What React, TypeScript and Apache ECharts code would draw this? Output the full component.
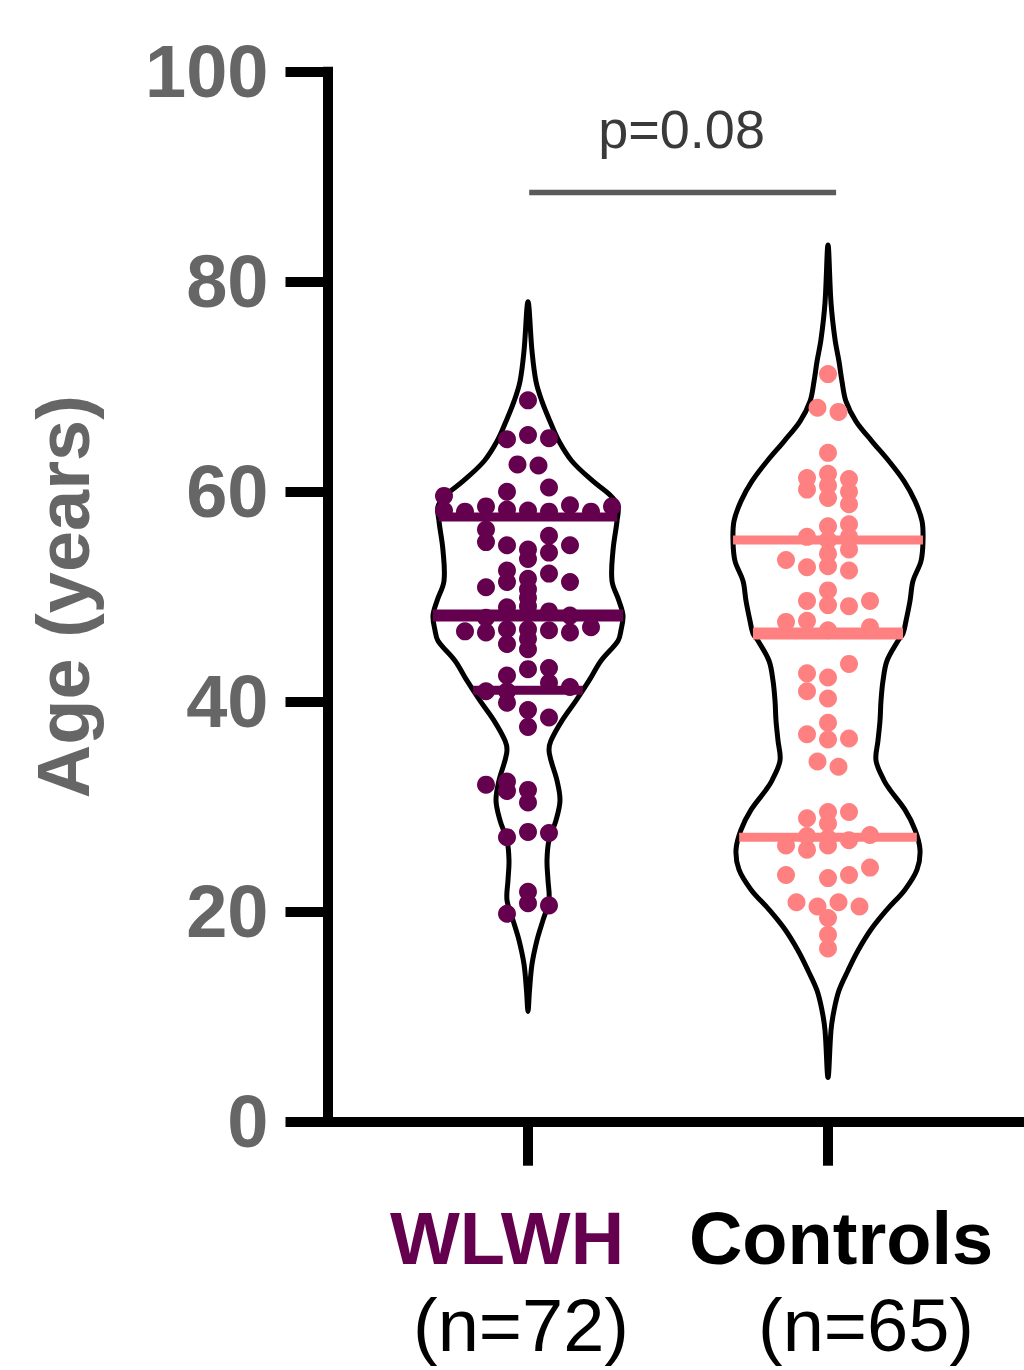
import React, { useEffect, useRef } from "react";
import * as echarts from "echarts";

// ---------- data ----------
const categories = ["WLWH", "Controls"];
const groupSizes = [72, 65];
const groupColors = ["#65004f", "#ff8080"];
const categoryLabelColors = ["#65004f", "#000000"];
const yAxisTitle = "Age (years)";
const pValueLabel = "p=0.08";
const bracketAge = 88.5;
const pLabelAge = 94.5;

// WLWH individual ages and their beeswarm slot (column) positions
const wlwhAges = [
  68.7,
  65.0, 65.4, 65.1,
  62.6, 62.5,
  59.6, 60.0, 60.4,
  58.2, 58.1, 58.6, 58.3, 58.2, 58.1, 58.7, 58.1, 58.6,
  56.4, 55.2,
  54.9, 52.5, 51.4, 49.0,
  54.5, 53.6, 51.7, 50.7, 49.9, 49.1,
  55.8, 54.2, 52.2,
  54.9, 51.4,
  50.9,
  46.7, 46.6, 46.9, 46.9, 46.8, 46.6, 47.1,
  45.5, 46.0, 45.0,
  43.1, 42.5, 43.2,
  41.0, 41.0, 39.9, 41.8, 41.4,
  39.2, 38.5, 37.6,
  32.1, 32.4, 31.5, 31.6, 30.4,
  27.1, 27.6, 27.5,
  21.9, 20.8, 20.6, 19.8,
  48.6, 48.0, 48.2,
];
const wlwhSlots = [
  0,
  -1, 0, 1,
  -0.5, 0.5,
  -4, -1, 1,
  -4, -3, -2, -1, 0, 1, 2, 3, 4,
  -2, -2,
  -1, -1, -1, -1,
  0, 0, 0, 0, 0, 0,
  1, 1, 1,
  2, 2,
  -2,
  -3, -2, -1, 0, 1, 2, 3,
  -1, 0, 0,
  0, -1, 1,
  -2, -1, -1, 1, 2,
  0, 1, 0,
  -2, -1, -1, 0, 0,
  -1, 0, 1,
  0, 0, 1, -1,
  1, -2, 2,
];

// Controls individual ages and slots
const controlsAges = [
  71.2,
  68.0, 67.6,
  63.7,
  61.3, 60.2,
  61.7, 60.6, 59.4,
  61.2, 60.0, 58.8,
  56.7, 56.9, 55.7,
  55.4, 54.1, 52.9,
  55.7, 54.5, 52.5,
  53.5, 52.8,
  50.6, 49.6, 49.2, 49.1, 49.6,
  47.6, 47.7, 47.1,
  43.6, 42.7, 42.3, 41.0, 40.3,
  38.0, 36.9, 36.4, 36.5, 34.3, 33.8,
  28.9, 29.5, 28.4, 29.5,
  26.3, 25.9, 26.3, 26.8, 27.3,
  23.5, 23.2, 23.5, 24.2,
  20.9, 20.5, 20.9, 20.5,
  19.4, 17.8, 16.5,
  27.2, 27.0, 46.8,
];
const controlsSlots = [
  0,
  -0.5, 0.5,
  0,
  -1, -1,
  0, 0, 0,
  1, 1, 1,
  0, 1, -1,
  0, 0, 0,
  1, 1, 1,
  -2, -1,
  0, -1, 0, 1, 2,
  -2, -1, 2,
  1, -1, 0, -1, 0,
  0, -1, 0, 1, -0.5, 0.5,
  -1, 0, 0, 1,
  -2, -1, 0, 1, 2,
  -2, 0, 1, 2,
  -1.5, -0.5, 0.5, 1.5,
  0, 0, 0,
  -1, 0, 0,
];

// violin density profiles (age, relative half width)
const wlwhProfileAges = [78.1, 73.4, 70.5, 68.6, 66.7, 64.8, 62.9, 61.0, 59.6, 58.6, 57.2, 54.4, 51.5, 49.6, 48.2, 46.8, 45.8, 43.9, 42.0, 40.1, 38.2, 36.3, 35.4, 34.4, 32.5, 30.6, 28.7, 26.8, 24.9, 23.0, 21.1, 19.2, 17.3, 15.0, 12.5, 10.5];
const wlwhProfileDensity = [0, 4, 8, 14, 22, 31, 44, 65, 83, 90, 89, 85, 84, 91, 95, 93, 90, 73, 61, 48, 34, 23, 21, 23, 29, 32, 28, 21, 19, 20, 21, 15, 9, 4, 1.5, 0];
const controlsProfileAges = [83.5, 78.0, 74.5, 72.4, 70.5, 68.6, 66.7, 64.8, 62.9, 61.0, 59.1, 57.2, 55.3, 53.4, 51.5, 49.6, 47.7, 46.5, 45.8, 43.9, 42.0, 40.1, 38.2, 36.3, 34.4, 32.5, 31.6, 29.7, 27.8, 25.9, 24.0, 22.1, 20.2, 18.3, 16.3, 14.4, 12.5, 10.6, 8.7, 4.2];
const controlsProfileDensity = [0, 3, 7, 11, 14, 18, 28, 44, 61, 76, 87, 94, 95, 93, 85, 82, 78, 75, 70, 59, 55, 53, 52, 50, 48, 56, 62, 77, 87, 92, 89, 77, 59, 43, 30, 20, 11, 6, 3, 0];

// quartiles: [Q1, median, Q3]
const wlwhQuartiles = [41.1, 48.2, 57.6];
const controlsQuartiles = [27.1, 46.5, 55.4];

// ---------- layout constants ----------
const FONT = "'Liberation Sans', Arial, Helvetica, sans-serif";
const SLOT_WIDTH = 0.07; // category units per swarm column
const DENSITY_SCALE = 1 / 300; // category units per density unit
const X_MIN = 0.3317;
const X_MAX = 2.6533;

const groups = [
  { ages: wlwhAges, slots: wlwhSlots, pAges: wlwhProfileAges, pDens: wlwhProfileDensity, q: wlwhQuartiles },
  { ages: controlsAges, slots: controlsSlots, pAges: controlsProfileAges, pDens: controlsProfileDensity, q: controlsQuartiles },
];

function densityAt(pAges: number[], pDens: number[], age: number) {
  for (let i = 0; i < pAges.length - 1; i++) {
    const a0 = pAges[i], a1 = pAges[i + 1];
    if (age <= a0 && age >= a1) {
      const t = (a0 - age) / (a0 - a1);
      return pDens[i] + t * (pDens[i + 1] - pDens[i]);
    }
  }
  return 0;
}

export default function App() {
  const ref = useRef<HTMLDivElement>(null);

  useEffect(() => {
    document.body.style.margin = "0";
    const chart = echarts.init(ref.current!, null, { renderer: "svg" });

    const violinSeries = {
      type: "custom",
      coordinateSystem: "cartesian2d",
      xAxisIndex: 0,
      yAxisIndex: 0,
      data: [[1, 50], [2, 50]],
      encode: { x: 0, y: 1 },
      z: 1,
      silent: true,
      renderItem: (params: any, api: any) => {
        const gi = params.dataIndex;
        const g = groups[gi];
        const c = gi + 1;
        const pts: number[][] = [];
        for (let i = 0; i < g.pAges.length; i++) {
          pts.push(api.coord([c + g.pDens[i] * DENSITY_SCALE, g.pAges[i]]));
        }
        for (let i = g.pAges.length - 2; i >= 1; i--) {
          pts.push(api.coord([c - g.pDens[i] * DENSITY_SCALE, g.pAges[i]]));
        }
        const children: any[] = [
          {
            type: "polygon",
            shape: { points: pts, smooth: 0.35 },
            style: { fill: "none", stroke: "#000", lineWidth: 5 },
          },
        ];
        g.q.forEach((qv: number, k: number) => {
          const hw = densityAt(g.pAges, g.pDens, qv) * DENSITY_SCALE;
          const p1 = api.coord([c - hw, qv]);
          const p2 = api.coord([c + hw, qv]);
          children.push({
            type: "line",
            shape: { x1: p1[0], y1: p1[1], x2: p2[0], y2: p2[1] },
            style: { stroke: groupColors[gi], lineWidth: k === 1 ? 12 : 9 },
          });
        });
        return { type: "group", children };
      },
    };

    const dotSeries = groups.map((g, gi) => ({
      type: "scatter",
      name: categories[gi],
      xAxisIndex: 0,
      yAxisIndex: 0,
      symbol: "circle",
      symbolSize: 18,
      z: 3,
      itemStyle: { color: groupColors[gi], opacity: 1 },
      data: g.ages.map((a, i) => [gi + 1 + g.slots[i] * SLOT_WIDTH, a]),
    }));

    const annotationSeries = {
      type: "custom",
      coordinateSystem: "cartesian2d",
      xAxisIndex: 0,
      yAxisIndex: 0,
      data: [[1.5, bracketAge]],
      encode: { x: 0, y: 1 },
      z: 4,
      silent: true,
      renderItem: (params: any, api: any) => {
        const a = api.coord([1.004, bracketAge]);
        const b = api.coord([2.027, bracketAge]);
        const t = api.coord([1.512, pLabelAge]);
        return {
          type: "group",
          children: [
            {
              type: "line",
              shape: { x1: a[0], y1: a[1], x2: b[0], y2: b[1] },
              style: { stroke: "#5a5a5a", lineWidth: 5.5 },
            },
            {
              type: "text",
              style: {
                text: pValueLabel,
                x: t[0],
                y: t[1],
                fill: "#3a3a3a",
                font: `normal 54px ${FONT}`,
                align: "center",
                verticalAlign: "middle",
              },
            },
          ],
        };
      },
    };

    const rich: any = {};
    categories.forEach((name, i) => {
      rich["g" + i] = {
        fontFamily: FONT,
        fontWeight: "bold",
        fontSize: 74,
        color: categoryLabelColors[i],
        lineHeight: 87,
        padding: i === 0 ? [0, 42, 0, 0] : [0, 0, 0, 26],
      };
      rich["n" + i] = {
        fontFamily: FONT,
        fontWeight: "normal",
        fontSize: 74,
        color: "#000",
        lineHeight: 87,
        padding: i === 0 ? [0, 14, 0, 0] : [0, 0, 0, 76],
      };
    });

    chart.setOption({
      animation: false,
      backgroundColor: "#fff",
      tooltip: { show: false },
      grid: [
        {
          left: 327.5,
          top: 71.7,
          right: 0,
          bottom: 248.3,
          containLabel: false,
          outerBoundsMode: "none",
        },
        {
          // category grid used for the group ticks and labels (centres at 528 / 828)
          left: 378,
          top: 71.7,
          right: 46,
          bottom: 248.3,
          containLabel: false,
          outerBoundsMode: "none",
        },
      ],
      xAxis: [
        {
          type: "value",
          gridIndex: 0,
          min: X_MIN,
          max: X_MAX,
          splitLine: { show: false },
          axisLine: { show: true, onZero: false, lineStyle: { color: "#000", width: 10, cap: "square" } },
          axisTick: { show: false },
          axisLabel: { show: false },
        },
        {
          type: "category",
          gridIndex: 1,
          data: categories,
          boundaryGap: true,
          splitLine: { show: false },
          axisLine: { show: false, onZero: false },
          axisTick: { show: true, alignWithLabel: true, interval: 0, length: 44, lineStyle: { color: "#000", width: 10 } },
          axisLabel: {
            show: true,
            interval: 0,
            margin: 73,
            formatter: (v: string) => {
              const i = categories.indexOf(v);
              return `{g${i}|${categories[i]}}\n{n${i}|(n=${groupSizes[i]})}`;
            },
            rich,
          },
        },
      ],
      yAxis: [
        {
          type: "value",
          gridIndex: 0,
          min: 0,
          max: 100,
          interval: 20,
          splitLine: { show: false },
          name: yAxisTitle,
          nameLocation: "middle",
          nameGap: 227,
          nameRotate: 90,
          nameTextStyle: { fontFamily: FONT, fontWeight: "bold", fontSize: 74, color: "#666666" },
          axisLine: { show: true, onZero: false, lineStyle: { color: "#000", width: 10, cap: "square" } },
          axisTick: { show: true, length: 42, lineStyle: { color: "#000", width: 10 } },
          axisLabel: {
            margin: 59,
            fontFamily: FONT,
            fontWeight: "bold",
            fontSize: 74,
            color: "#666666",
          },
        },
        {
          type: "value",
          gridIndex: 1,
          min: 0,
          max: 100,
          show: false,
        },
      ],
      series: [violinSeries, ...dotSeries, annotationSeries],
    });

    return () => chart.dispose();
  }, []);

  return <div ref={ref} style={{ width: 1024, height: 1370 }} />;
}
